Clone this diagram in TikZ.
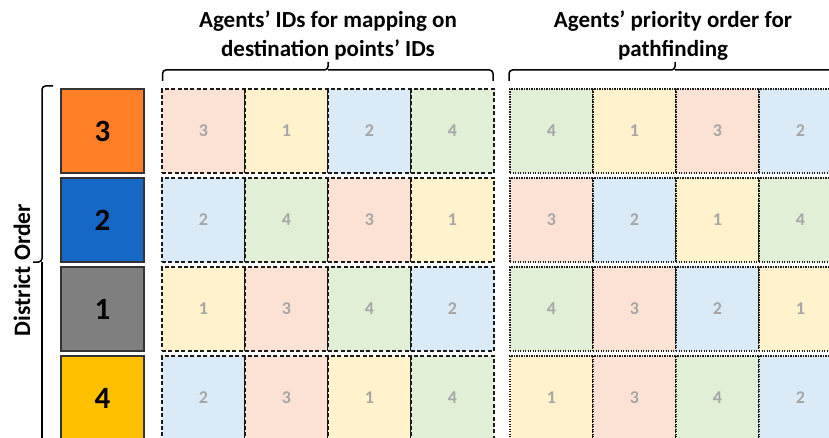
\documentclass[tikz,border=0pt]{standalone}
\usepackage{fontspec}
\setmainfont{Carlito}
\definecolor{c1}{HTML}{FFF2CC}
\definecolor{c2}{HTML}{DAEAF7}
\definecolor{c3}{HTML}{FCE2D4}
\definecolor{c4}{HTML}{E0EFD6}
\definecolor{numgray}{HTML}{A6A6A6}
\definecolor{dOrange}{HTML}{FF7F27}
\definecolor{dBlue}{HTML}{1668C6}
\definecolor{dGray}{HTML}{7F7F7F}
\definecolor{dYellow}{HTML}{FFC000}
\tikzset{
  cellbase/.style={minimum width=83pt, minimum height=84pt, inner sep=0pt, line width=1.3pt, draw=black!90,
    text=numgray, font=\fontsize{18}{18}\selectfont\bfseries},
  lcell/.style={cellbase, dash pattern=on 4pt off 2.4pt},
  rcell/.style={cellbase, dash pattern=on 1.2pt off 1.3pt},
  dbox/.style={minimum width=83pt, minimum height=84pt, inner sep=0pt, line width=1.6pt, draw=black!80,
    font=\fontsize{31}{31}\selectfont\bfseries},
  title/.style={anchor=base, font=\fontsize{23}{26}\selectfont\bfseries},
  bracestyle/.style={line width=1.5pt, rounded corners=3.5pt}
}
\begin{document}
\begin{tikzpicture}[x=1pt, y=-1pt]
\useasboundingbox (0,0) rectangle (829,438);
\clip (0,0) rectangle (829,438);
% district boxes
\foreach \r/\n/\col in {1/3/dOrange, 2/2/dBlue, 3/1/dGray, 4/4/dYellow}{
  \node[dbox, fill=\col] (D\r) at (102.5, {131+89*(\r-1)}) {\n};
}
% left grid
\foreach \r/\lst in {1/{3,1,2,4}, 2/{2,4,3,1}, 3/{1,3,4,2}, 4/{2,3,1,4}}{
  \foreach \v [count=\c] in \lst {
    \node[lcell, fill=c\v] (L\r\c) at ({203.5+83*(\c-1)}, {131+89*(\r-1)}) {\v};
  }
}
% right grid
\foreach \r/\lst in {1/{4,1,3,2}, 2/{3,2,1,4}, 3/{4,3,2,1}, 4/{1,3,4,2}}{
  \foreach \v [count=\c] in \lst {
    \node[rcell, fill=c\v] (R\r\c) at ({551.5+83*(\c-1)}, {131+89*(\r-1)}) {\v};
  }
}
% titles
\node[title] (T1a) at (328,28) {Agents’ IDs for mapping on};
\node[title] (T1b) at (328,57) {destination points’ IDs};
\node[title] (T2a) at (673,28) {Agents’ priority order for};
\node[title] (T2b) at (673,57) {pathfinding};
% district order label
\node[rotate=90, font=\fontsize{23.5}{23.5}\selectfont\bfseries] (DO) at (22,270) {District Order};
% braces
\draw[bracestyle] (162.5,81) -- (162.5,70) -- (328,70) -- (328,62);
\draw[bracestyle] (328,70) -- (493,70) -- (493,81);
\draw[bracestyle] (509,81) -- (509,70) -- (675,70) -- (675,62);
\draw[bracestyle] (675,70) -- (842,70) -- (842,81);
\draw[bracestyle] (53,86) -- (42,86) -- (42,262) -- (33,262);
\draw[bracestyle] (42,262) -- (42,450);
\end{tikzpicture}
\end{document}
